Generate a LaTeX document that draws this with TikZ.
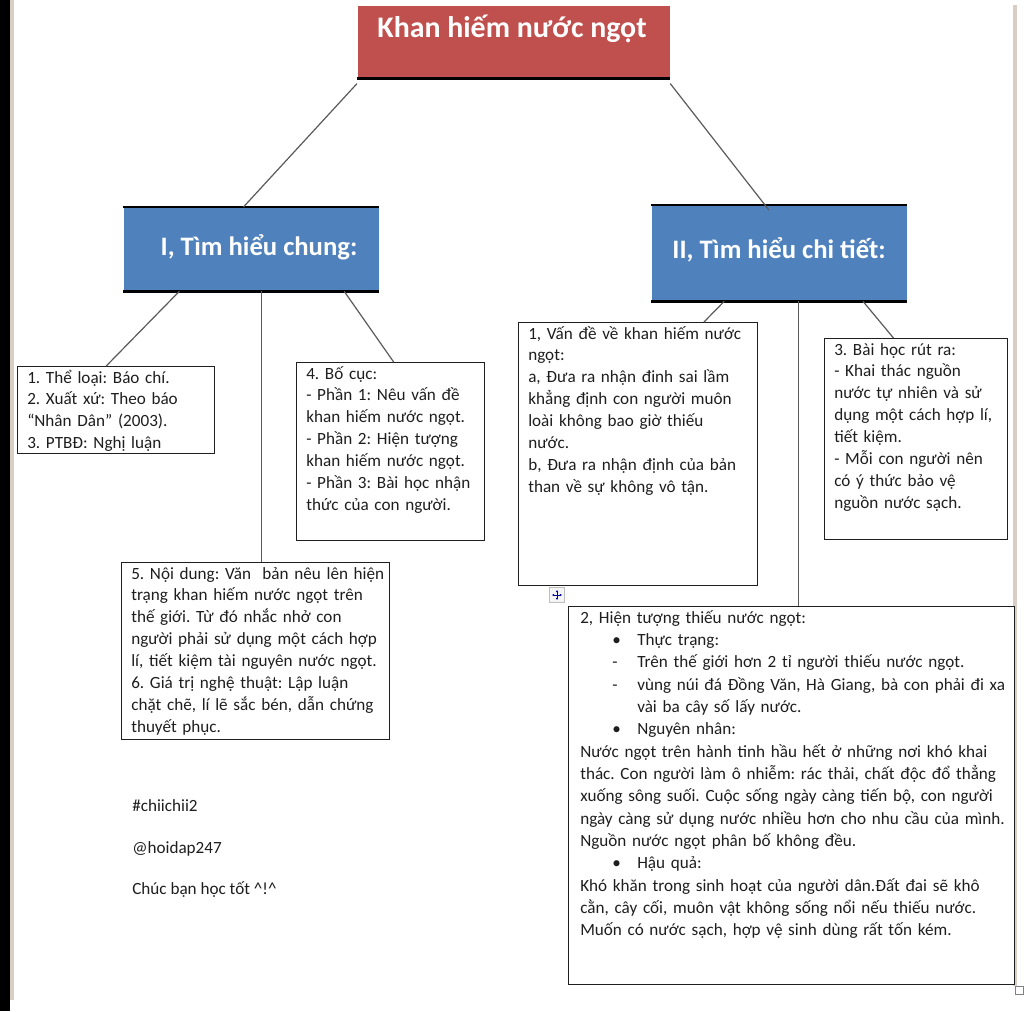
\documentclass[tikz,border=0pt]{standalone}
\usepackage{fontspec}
\setmainfont{Carlito}
\usetikzlibrary{calc,arrows.meta}
\definecolor{redbox}{HTML}{C0504D}
\definecolor{bluebox}{HTML}{4F81BD}
\definecolor{txtc}{HTML}{1E1E1E}
\definecolor{edgec}{HTML}{D8CEC3}
\definecolor{connc}{HTML}{5A5A5A}
\newcommand\lnL[1]{\hbox to \hsize{#1\hfil}}
\newcommand\lnJ[1]{\hbox to \hsize{#1}}
\newcommand\lnB[2]{\hbox to \hsize{\hspace*{24pt}\makebox[18.75pt][l]{#1}#2\hfil}}
\frenchspacing
\begin{document}
\begin{tikzpicture}[x=0.75pt,y=-0.75pt,
  panel/.style={draw=black!88, line width=0.95pt, fill=white, inner sep=0pt, anchor=north west},
  body/.style={anchor=base west, inner sep=0pt, text=txtc, font=\fontsize{12.85}{16.4}\selectfont},
  link/.style={draw=connc, line width=0.9pt},
  headtext/.style={text=white, inner sep=0pt, anchor=base, font=\bfseries\fontsize{20}{24}\selectfont},
  rulebar/.style={line width=2.2pt, black}]

\useasboundingbox (0,0) rectangle (1024,1011);
\fill[white] (0,0) rectangle (1024,1011);
\fill[black] (0,0) rectangle (9.5,1011);
\fill[edgec] (10,0) rectangle (14,1000);
\fill[edgec] (1013,5) rectangle (1017,986);

% title
\node[panel, draw=none, fill=redbox, minimum width=234pt, minimum height=54pt] (top) at (357,5) {};
\draw[rulebar] (top.south west) -- (top.south east);
\node[headtext, font=\bfseries\fontsize{22.4}{26}\selectfont] (toptext) at (512,37) {Khan hiếm nước ngọt};

% section headings
\node[panel, draw=none, fill=bluebox, minimum width=191.25pt, minimum height=62.25pt] (b1) at (123,207) {};
\draw[rulebar] (b1.north west) -- (b1.north east);
\draw[rulebar] (b1.south west) -- (b1.south east);
\node[headtext] (b1t) at (259,255) {I, Tìm hiểu chung:};

\node[panel, draw=none, fill=bluebox, minimum width=191.25pt, minimum height=71.25pt] (b2) at (651,205) {};
\draw[rulebar] (b2.north west) -- (b2.north east);
\draw[rulebar] (b2.south west) -- (b2.south east);
\node[headtext] (b2t) at (779,258) {II, Tìm hiểu chi tiết:};

% panels
\node[panel, minimum width=147.75pt, minimum height=65.25pt] (A) at (17,366) {};
\node[body, text width=132.75pt] (At) at (27,383) {%
\lnL{1. Thể loại: Báo chí.}
\lnL{2. Xuất xứ: Theo báo}
\lnL{“Nhân Dân” (2003).}
\lnL{3. PTBĐ: Nghị luận}};

\node[panel, minimum width=141pt, minimum height=133.5pt] (B) at (296,362) {};
\node[body, text width=128.25pt] (Bt) at (306,379) {%
\lnL{4. Bố cục:}
\lnJ{- Phần 1: Nêu vấn đề}
\lnL{khan hiếm nước ngọt.}
\lnJ{- Phần 2: Hiện tượng}
\lnL{khan hiếm nước ngọt.}
\lnJ{- Phần 3: Bài học nhận}
\lnL{thức của con người.}};

\node[panel, minimum width=201pt, minimum height=132.75pt] (C) at (121,562) {};
\node[body, text width=186pt] (Ct) at (131,579) {%
\lnL{5. Nội dung: Văn \ bản nêu lên hiện}
\lnL{trạng khan hiếm nước ngọt trên}
\lnL{thế giới. Từ đó nhắc nhở con}
\lnL{người phải sử dụng một cách hợp}
\lnL{lí, tiết kiệm tài nguyên nước ngọt.}
\lnL{6. Giá trị nghệ thuật: Lập luận}
\lnL{chặt chẽ, lí lẽ sắc bén, dẫn chứng}
\lnL{thuyết phục.}};

\node[panel, minimum width=179.25pt, minimum height=197.25pt] (D) at (518,322) {};
\node[body, text width=164.25pt] (Dt) at (528,339) {%
\lnL{1, Vấn đề về khan hiếm nước}
\lnL{ngọt:}
\lnL{a, Đưa ra nhận đinh sai lầm}
\lnL{khẳng định con người muôn}
\lnL{loài không bao giờ thiếu}
\lnL{nước.}
\lnL{b, Đưa ra nhận định của bản}
\lnL{than về sự không vô tận.}};

\node[panel, minimum width=137.25pt, minimum height=150.75pt] (E) at (824,338) {};
\node[body, text width=122.25pt] (Et) at (834,355) {%
\lnL{3. Bài học rút ra:}
\lnL{- Khai thác nguồn}
\lnL{nước tự nhiên và sử}
\lnL{dụng một cách hợp lí,}
\lnL{tiết kiệm.}
\lnL{- Mỗi con người nên}
\lnL{có ý thức bảo vệ}
\lnL{nguồn nước sạch.}};

\node[panel, minimum width=334.5pt, minimum height=283.5pt] (F) at (568,606) {};
\node[body, text width=319.5pt, font=\fontsize{12.85}{16.75}\selectfont] (Ft) at (580,623) {%
\lnL{2, Hiện tượng thiếu nước ngọt:}
\lnB{•}{Thực trạng:}
\lnB{-}{Trên thế giới hơn 2 tỉ người thiếu nước ngọt.}
\lnB{-}{vùng núi đá Đồng Văn, Hà Giang, bà con phải đi xa}
\lnB{}{vài ba cây số lấy nước.}
\lnB{•}{Nguyên nhân:}
\lnJ{Nước ngọt trên hành tinh hầu hết ở những nơi khó khai}
\lnJ{thác. Con người làm ô nhiễm: rác thải, chất độc đổ thẳng}
\lnJ{xuống sông suối. Cuộc sống ngày càng tiến bộ, con người}
\lnJ{ngày càng sử dụng nước nhiều hơn cho nhu cầu của mình.}
\lnL{Nguồn nước ngọt phân bố không đều.}
\lnB{•}{Hậu quả:}
\lnJ{Khó khăn trong sinh hoạt của người dân.Đất đai sẽ khô}
\lnJ{cằn, cây cối, muôn vật không sống nổi nếu thiếu nước.}
\lnL{Muốn có nước sạch, hợp vệ sinh dùng rất tốn kém.}};

% free text
\node[body] (tag1) at (132,811) {\#chiichii2};
\node[body] (tag2) at (132,853) {@hoidap247};
\node[body] (tag3) at (132,894) {Chúc bạn học tốt \textasciicircum!\textasciicircum};

% small editor marks
\node[draw=black!25, fill=black!4, minimum size=11pt, inner sep=0pt] (mv) at (557,595) {};
\draw[blue!60!black, line width=0.5pt, {Latex[length=1.6pt,width=1.8pt]}-{Latex[length=1.6pt,width=1.8pt]}] ([xshift=-3.8pt]mv.center) -- ([xshift=3.8pt]mv.center);
\draw[blue!60!black, line width=0.5pt, {Latex[length=1.6pt,width=1.8pt]}-{Latex[length=1.6pt,width=1.8pt]}] ([yshift=-3.8pt]mv.center) -- ([yshift=3.8pt]mv.center);
\node[draw=black!50, fill=white, minimum size=6pt, inner sep=0pt] (hnd) at (1019,990) {};

% connectors
\draw[link] ([yshift=-4pt]top.south west) -- ($(b1.north west)!0.47!(b1.north east)$);
\draw[link] ([yshift=-4pt]top.south east) -- ($(b2.north west)!0.46!(b2.north east)+(0,5)$);
\draw[link] ($(b1.south west)!0.22!(b1.south east)$) -- ($(A.north west)!0.45!(A.north east)$);
\draw[link] ($(b1.south west)!0.54!(b1.south east)$) coordinate (c1) -- (c1 |- C.north);
\draw[link] ($(b1.south west)!0.863!(b1.south east)$) -- ($(B.north west)!0.516!(B.north east)$);
\draw[link] ($(b2.south west)!0.286!(b2.south east)$) -- ($(D.north west)!0.774!(D.north east)$);
\draw[link] ($(b2.south west)!0.576!(b2.south east)$) coordinate (c2) -- (c2 |- F.north);
\draw[link] ($(b2.south west)!0.827!(b2.south east)$) -- ($(E.north west)!0.377!(E.north east)$);
\end{tikzpicture}
\end{document}
